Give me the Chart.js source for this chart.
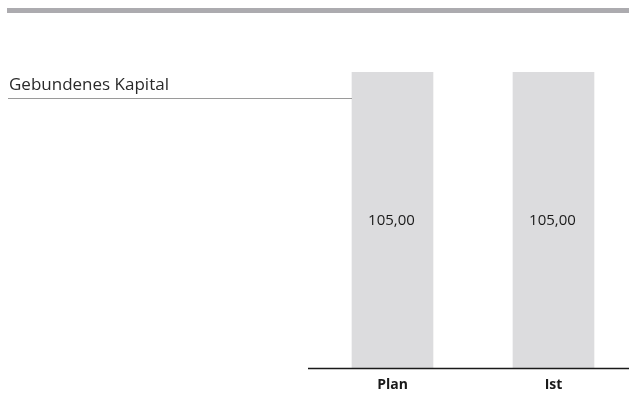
<!DOCTYPE html>
<html>
<head>
<meta charset="utf-8">
<script src="https://cdn.jsdelivr.net/npm/chart.js@4"></script>
<style>
  html, body { margin: 0; padding: 0; background: #fff; overflow: hidden; }
  #wrap { width: 629px; height: 408px; overflow: hidden; }
</style>
</head>
<body>
<div id="wrap"><canvas id="bar-chart" width="640" height="408"></canvas></div>
<script>
const categories = ["Plan", "Ist"];
const kapital = [105.0, 105.0];
const seriesLabel = "Gebundenes Kapital";

const fontFamily = "'Open Sans', 'Noto Sans', sans-serif";

// frame: top grey rule, label with underline, baseline, value labels
const decorations = {
  id: "decorations",
  afterDatasetsDraw(chart) {
    const ctx = chart.ctx;
    const area = chart.chartArea;
    ctx.save();

    ctx.fillStyle = "#acabaf";
    ctx.fillRect(7, 8, 640, 5);

    ctx.fillStyle = "#2a2a2a";
    ctx.font = "17px " + fontFamily;
    ctx.textBaseline = "alphabetic";
    ctx.textAlign = "left";
    ctx.fillText(seriesLabel, 9, 90);

    ctx.strokeStyle = "#9a9a9a";
    ctx.lineWidth = 1;
    ctx.beginPath();
    ctx.moveTo(8, 98.5);
    ctx.lineTo(352, 98.5);
    ctx.stroke();

    ctx.strokeStyle = "#1a1a1a";
    ctx.lineWidth = 1.5;
    ctx.beginPath();
    ctx.moveTo(308, area.bottom + 0.5);
    ctx.lineTo(640, area.bottom + 0.5);
    ctx.stroke();

    ctx.fillStyle = "#1a1a1a";
    ctx.font = "15px " + fontFamily;
    ctx.textAlign = "center";
    ctx.textBaseline = "middle";
    chart.getDatasetMeta(0).data.forEach((bar, i) => {
      const txt = kapital[i].toFixed(2).replace(".", ",");
      ctx.fillText(txt, bar.x - 1, (bar.y + bar.base) / 2 + 1);
    });
    ctx.restore();
  },
};

new Chart(document.getElementById("bar-chart").getContext("2d"), {
  type: "bar",
  data: {
    labels: categories,
    datasets: [
      {
        label: seriesLabel,
        data: kapital,
        backgroundColor: "#dcdcde",
        borderWidth: 0,
        barThickness: 81,
      },
    ],
  },
  options: {
    responsive: false,
    animation: false,
    layout: {
      padding: { left: 312, right: 6, top: 72, bottom: 0 },
    },
    scales: {
      x: {
        grid: { display: false },
        border: { display: false },
        ticks: {
          padding: 1,
          color: "#1a1a1a",
          font: { family: fontFamily, size: 14, weight: "bold" },
        },
        afterFit: (scale) => {
          scale.height = 40;
        },
      },
      y: {
        display: false,
        min: 0,
        max: 105,
      },
    },
    plugins: {
      legend: { display: false },
      tooltip: { enabled: false },
    },
  },
  plugins: [decorations],
});
</script>
</body>
</html>
